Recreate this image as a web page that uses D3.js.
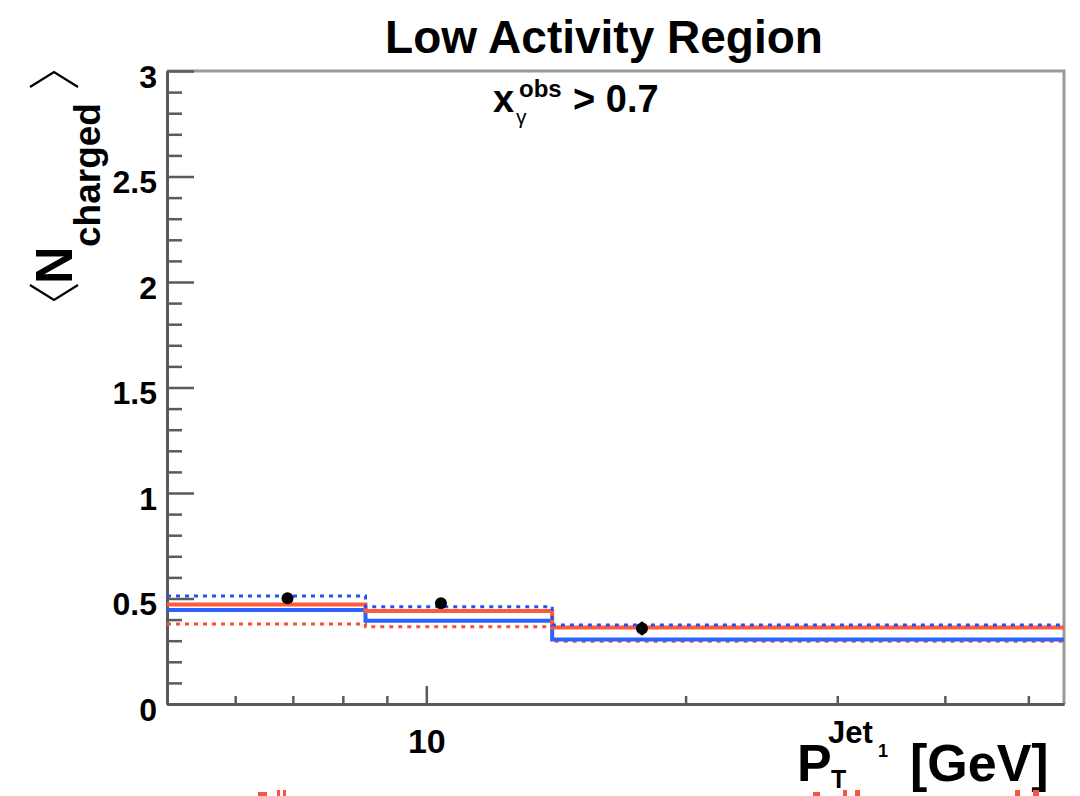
<!DOCTYPE html>
<html><head><meta charset="utf-8">
<script src="https://cdn.jsdelivr.net/npm/d3@7"></script>
<style>
body{margin:0;background:#fff}
svg{display:block}
text{font-family:"Liberation Sans",Arial,Helvetica,sans-serif;font-weight:bold;fill:#000}
</style>
</head><body>
<svg id="c" width="1080" height="796"></svg>
<script>
// ---- data ----
const binEdges   = [5, 8.5, 14, 55];
const dataX      = [6.9, 10.4, 17.8];
const dataY      = [0.501, 0.477, 0.358];
const dataErr    = [0.012, 0.012, 0.032];
const redSolid   = [0.471, 0.441, 0.363];
const redDotted  = [0.379, 0.366, 0.297];
const blueSolid  = [0.445, 0.395, 0.306];
const blueDotted = [0.512, 0.461, 0.374];
const yMajorTicks = [0, 0.5, 1, 1.5, 2, 2.5, 3];
const yTickLabels = ["0", "0.5", "1", "1.5", "2", "2.5", "3"];
const xMajorTicks = [10];
const xTickLabels = ["10"];
const xMinorTicks = [6, 7, 8, 9, 20, 30, 40, 50];
const titleText = "Low Activity Region";

// ---- layout ----
const L = 167, R = 1064, T = 71, B = 704;
const svg = d3.select("#c");
const x = d3.scaleLog().domain([5, 55]).range([L, R]);
const y = d3.scaleLinear().domain([0, 3]).range([B, T]);

// frame (top/right)
svg.append("path").attr("d", `M${L},${T}H${R}V${B}`)
  .attr("fill", "none").attr("stroke", "#9a9a9a").attr("stroke-width", 3);

// y axis
const yMinor = d3.range(0, 30).map(i => i / 10).filter(v => Math.round(v * 10) % 5 !== 0);
svg.append("g").attr("transform", `translate(${L},0)`)
  .call(d3.axisLeft(y).tickValues(yMinor).tickSizeInner(-15).tickSizeOuter(0).tickFormat(""));
const gy = svg.append("g").attr("transform", `translate(${L},0)`)
  .call(d3.axisLeft(y).tickValues(yMajorTicks).tickSizeInner(-27).tickSizeOuter(0).tickPadding(10)
    .tickFormat((d, i) => yTickLabels[i]));
gy.selectAll("text").attr("font-size", 32).attr("dy", null).attr("y", 16)
  .style("font-family", '"Liberation Sans",Arial,sans-serif').style("font-weight", "bold");

// x axis
svg.append("g").attr("transform", `translate(0,${B})`)
  .call(d3.axisBottom(x).tickValues(xMinorTicks).tickSizeInner(-8).tickSizeOuter(0).tickFormat(""));
const gx = svg.append("g").attr("transform", `translate(0,${B})`)
  .call(d3.axisBottom(x).tickValues(xMajorTicks).tickSizeInner(-18).tickSizeOuter(0).tickPadding(14)
    .tickFormat((d, i) => xTickLabels[i]));
gx.selectAll("text").attr("font-size", 34).attr("dy", null).attr("y", 49)
  .style("font-family", '"Liberation Sans",Arial,sans-serif').style("font-weight", "bold");

svg.selectAll(".domain").attr("stroke", "#5a5a5a").attr("stroke-width", 3);
svg.selectAll(".tick line").attr("stroke", "#5a5a5a").attr("stroke-width", 2.5);

// histogram step lines
const stepLine = d3.line().x(d => x(d[0])).y(d => y(d[1])).curve(d3.curveStepAfter);
function stepPts(vals) {
  const pts = vals.map((v, i) => [binEdges[i], v]);
  pts.push([binEdges[binEdges.length - 1], vals[vals.length - 1]]);
  return pts;
}
const series = [
  {v: redDotted,  c: "#ff4f33", w: 3,   dash: "4,5"},
  {v: blueSolid,  c: "#2a62ff", w: 4,   dash: null},
  {v: redSolid,   c: "#ff5a3c", w: 4,   dash: null},
  {v: blueDotted, c: "#1e55ee", w: 3,   dash: "4,5"}
];
series.forEach(s => {
  svg.append("path").attr("d", stepLine(stepPts(s.v)))
    .attr("fill", "none").attr("stroke", s.c).attr("stroke-width", s.w)
    .attr("stroke-dasharray", s.dash);
});

// data points
const pts = dataX.map((d, i) => ({x: d, y: dataY[i], e: dataErr[i]}));
svg.selectAll("line.err").data(pts).join("line").attr("class", "err")
  .attr("x1", d => x(d.x)).attr("x2", d => x(d.x))
  .attr("y1", d => y(d.y - d.e)).attr("y2", d => y(d.y + d.e))
  .attr("stroke", "#000").attr("stroke-width", 3);
svg.selectAll("circle.pt").data(pts).join("circle").attr("class", "pt")
  .attr("cx", d => x(d.x)).attr("cy", d => y(d.y)).attr("r", 6).attr("fill", "#000");

// title
svg.append("text").attr("x", 604).attr("y", 53).attr("text-anchor", "middle")
  .attr("font-size", 46).text(titleText);

// subtitle x_gamma^obs > 0.7
svg.append("text").attr("x", 493).attr("y", 112).attr("font-size", 38).text("x");
svg.append("text").attr("x", 516).attr("y", 124).attr("font-size", 21).style("font-weight", "normal").text("γ");
svg.append("text").attr("x", 519).attr("y", 97).attr("font-size", 24).text("obs");
svg.append("text").attr("x", 573).attr("y", 112).attr("font-size", 38).text("> 0.7");

// x axis title
svg.append("text").attr("x", 797).attr("y", 781).attr("font-size", 52).text("P");
svg.append("text").attr("x", 828).attr("y", 743).attr("font-size", 31).text("Jet");
svg.append("text").attr("x", 878).attr("y", 757).attr("font-size", 18).text("1");
svg.append("text").attr("x", 831).attr("y", 788).attr("font-size", 25).text("T");
svg.append("text").attr("x", 910).attr("y", 781).attr("font-size", 52).text("[GeV]");

// y axis title (rotated) with angle brackets
function rot(xp, yp, size, str) {
  return svg.append("text").attr("transform", `translate(${xp},${yp}) rotate(-90)`)
    .attr("font-size", size).text(str);
}
rot(72, 284, 52, "N");
rot(100, 247, 37, "charged");
// angle brackets drawn as strokes (ROOT #LT / #GT style)
svg.append("path").attr("d", "M30,285 L54,300 L78,285")
  .attr("fill", "none").attr("stroke", "#000").attr("stroke-width", 2.2);
svg.append("path").attr("d", "M30,87 L54,72 L78,87")
  .attr("fill", "none").attr("stroke", "#000").attr("stroke-width", 2.2);

// red fragments at the bottom edge (clipped content below)
const frags = [[258, 792, 9, 4], [277, 790, 3, 6], [283, 790, 3, 6], [813, 792, 7, 4],
               [843, 790, 4, 6], [855, 790, 5, 6], [1015, 790, 5, 6], [1033, 790, 6, 6]];
svg.selectAll("rect.frag").data(frags).join("rect").attr("class", "frag")
  .attr("x", d => d[0]).attr("y", d => d[1]).attr("width", d => d[2]).attr("height", d => d[3])
  .attr("fill", "#f4553f");
</script>
</body></html>
